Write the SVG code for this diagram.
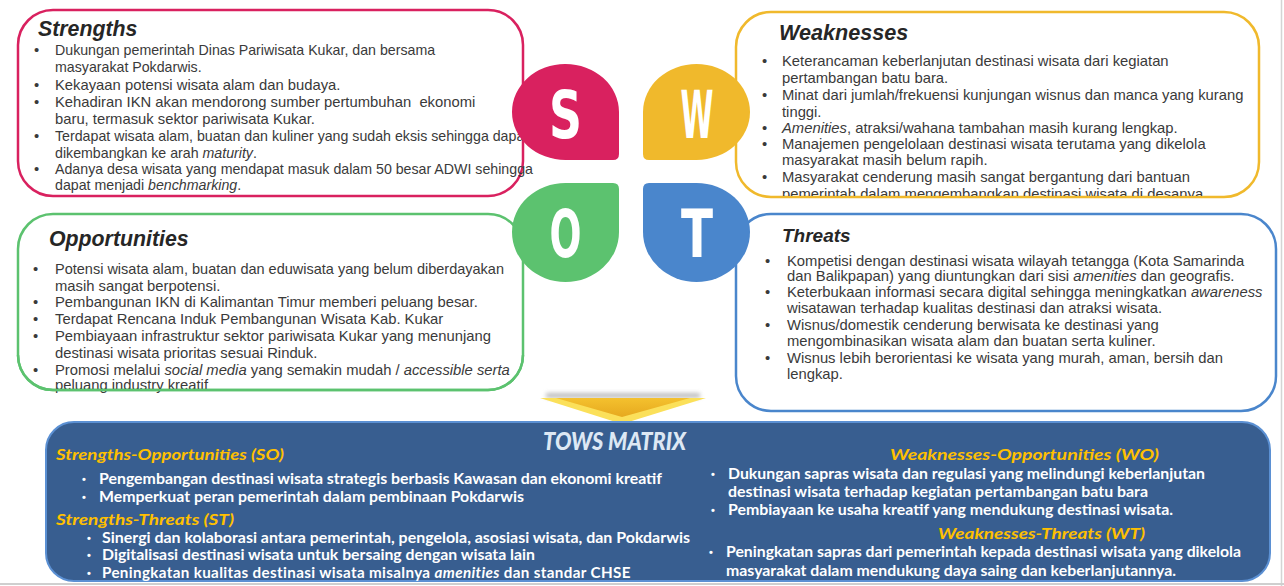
<svg xmlns="http://www.w3.org/2000/svg" width="1284" height="586" viewBox="0 0 1284 586">
<style>
.box{fill:#fff;stroke-width:2.5}
.ttl{font-family:"Liberation Sans",Arial,sans-serif;font-weight:bold;font-style:italic;font-size:21.3px;fill:#262626}
.bd{font-family:"Liberation Sans",Arial,sans-serif;font-size:14.8px;fill:#3a3a3a}
.it{font-style:italic}
.ltr{font-family:"DejaVu Sans",sans-serif;font-weight:bold;font-size:66px;fill:#fff;text-anchor:middle}
.th{font-family:Lato,"Open Sans",sans-serif;font-weight:bold;font-style:italic;font-size:16px;fill:#ffc000}
.tb{font-family:Lato,"Open Sans",sans-serif;font-weight:bold;font-size:14.5px;fill:#fff}
.tbul{font-family:"Liberation Sans",Arial,sans-serif;font-weight:bold;font-size:11px;fill:#fff}
</style>
<defs>
<clipPath id="wclip"><rect x="730" y="0" width="540" height="196"/></clipPath>
<linearGradient id="ag" x1="0" y1="0" x2="0" y2="1">
<stop offset="0" stop-color="#f4c12e"/><stop offset="1" stop-color="#e6a91f"/>
</linearGradient>
<filter id="blur" x="-10%" y="-100%" width="120%" height="300%"><feGaussianBlur stdDeviation="2"/></filter>
</defs>
<rect width="1284" height="586" fill="#fff"/>
<line x1="1281.5" y1="0" x2="1281.5" y2="586" stroke="#d4d4d4" stroke-width="1.5"/>
<line x1="0" y1="584" x2="1284" y2="584" stroke="#cfcfcf" stroke-width="2"/>

<g id="strengths">
<rect class="box" x="18" y="10" width="505" height="186" rx="35" stroke="#d9215f"/>
<text class="ttl" x="38" y="36">Strengths</text>
<g class="bd">
<text x="34" y="55">•</text><text x="55" y="55" style="font-size:14.2px">Dukungan pemerintah Dinas Pariwisata Kukar, dan bersama</text>
<text x="55" y="72" style="font-size:14.2px">masyarakat Pokdarwis.</text>
<text x="34" y="90">•</text><text x="55" y="90">Kekayaan potensi wisata alam dan budaya.</text>
<text x="34" y="107">•</text><text x="55" y="107" xml:space="preserve">Kehadiran IKN akan mendorong sumber pertumbuhan  ekonomi</text>
<text x="55" y="124">baru, termasuk sektor pariwisata Kukar.</text>
<text x="34" y="141">•</text><text x="55" y="141" style="font-size:14.2px">Terdapat wisata alam, buatan dan kuliner yang sudah eksis sehingga dapat</text>
<text x="55" y="158" style="font-size:14.2px">dikembangkan ke arah <tspan class="it">maturity</tspan>.</text>
<text x="34" y="174">•</text><text x="55" y="174" style="font-size:14.2px">Adanya desa wisata yang mendapat masuk dalam 50 besar ADWI sehingga</text>
<text x="55" y="190" style="font-size:14.2px">dapat menjadi <tspan class="it">benchmarking</tspan>.</text>
</g>
</g>

<g id="weaknesses">
<rect class="box" x="736" y="12" width="523" height="185" rx="35" stroke="#f0b92c"/>
<text class="ttl" x="779" y="40" style="font-size:21.6px">Weaknesses</text>
<g class="bd" clip-path="url(#wclip)">
<text x="762" y="66">•</text><text x="782" y="66">Keterancaman keberlanjutan destinasi wisata dari kegiatan</text>
<text x="782" y="83">pertambangan batu bara.</text>
<text x="762" y="100">•</text><text x="782" y="100">Minat dari jumlah/frekuensi kunjungan wisnus dan manca yang kurang</text>
<text x="782" y="117">tinggi.</text>
<text x="762" y="133">•</text><text x="782" y="133"><tspan class="it">Amenities</tspan>, atraksi/wahana tambahan masih kurang lengkap.</text>
<text x="762" y="149">•</text><text x="782" y="149">Manajemen pengelolaan destinasi wisata terutama yang dikelola</text>
<text x="782" y="165">masyarakat masih belum rapih.</text>
<text x="762" y="182">•</text><text x="782" y="182">Masyarakat cenderung masih sangat bergantung dari bantuan</text>
<text x="782" y="199">pemerintah dalam mengembangkan destinasi wisata di desanya.</text>
</g>
</g>

<g id="opportunities">
<rect class="box" x="18" y="214" width="505" height="176" rx="35" stroke="#5cc26f"/>
<text class="ttl" x="49" y="246">Opportunities</text>
<g class="bd">
<text x="33" y="274">•</text><text x="55" y="274" style="font-size:14.5px">Potensi wisata alam, buatan dan eduwisata yang belum diberdayakan</text>
<text x="55" y="291">masih sangat berpotensi.</text>
<text x="33" y="307">•</text><text x="55" y="307">Pembangunan IKN di Kalimantan Timur memberi peluang besar.</text>
<text x="33" y="324">•</text><text x="55" y="324">Terdapat Rencana Induk Pembangunan Wisata Kab. Kukar</text>
<text x="33" y="341">•</text><text x="55" y="341">Pembiayaan infrastruktur sektor pariwisata Kukar yang menunjang</text>
<text x="55" y="358">destinasi wisata prioritas sesuai Rinduk.</text>
<text x="33" y="375">•</text><text x="55" y="375">Promosi melalui <tspan class="it">social media</tspan> yang semakin mudah / <tspan class="it">accessible serta</tspan></text>
<text x="55" y="390">peluang industry kreatif</text>
</g>
<path d="M18,355 A35,35 0 0 0 53,390 H488 A35,35 0 0 0 523,355" fill="none" stroke="#5cc26f" stroke-width="2.5"/>
</g>

<g id="threats">
<rect class="box" x="736" y="214" width="540" height="197" rx="35" stroke="#4a86cc"/>
<text class="ttl" x="782" y="242" style="font-size:19px">Threats</text>
<g class="bd">
<text x="765" y="266">•</text><text x="787" y="266">Kompetisi dengan destinasi wisata wilayah tetangga (Kota Samarinda</text>
<text x="787" y="281">dan Balikpapan) yang diuntungkan dari sisi <tspan class="it">amenities</tspan> dan geografis.</text>
<text x="765" y="297">•</text><text x="787" y="297">Keterbukaan informasi secara digital sehingga meningkatkan <tspan class="it">awareness</tspan></text>
<text x="787" y="313">wisatawan terhadap kualitas destinasi dan atraksi wisata.</text>
<text x="765" y="330">•</text><text x="787" y="330">Wisnus/domestik cenderung berwisata ke destinasi yang</text>
<text x="787" y="346">mengombinasikan wisata alam dan buatan serta kuliner.</text>
<text x="765" y="363">•</text><text x="787" y="363">Wisnus lebih berorientasi ke wisata yang murah, aman, bersih dan</text>
<text x="787" y="379">lengkap.</text>
</g>
</g>

<g id="bubble-S">
<path d="M512,112 A53,48 0 0 1 565.5,64 A53.5,48 0 0 1 619,112 V154 Q619,160 613,160 H565.5 A53.5,48 0 0 1 512,112 Z" fill="#d9215f"/>
<text class="ltr" x="565.5" y="138" textLength="33" lengthAdjust="spacingAndGlyphs">S</text>
</g>
<g id="bubble-W">
<path d="M643,112 A53.5,48 0 0 1 696.5,64 A53.5,48 0 0 1 750,112 A53.5,48 0 0 1 696.5,160 H649 Q643,160 643,154 Z" fill="#f0b92c"/>
<text class="ltr" x="697" y="138" textLength="33" lengthAdjust="spacingAndGlyphs">W</text>
</g>
<g id="bubble-O">
<path d="M512,232 A53.5,49 0 0 1 565.5,183 H613 Q619,183 619,189 V232 A53.5,50 0 0 1 565.5,282 A53.5,50 0 0 1 512,232 Z" fill="#5cc26f"/>
<text class="ltr" x="565.5" y="257" textLength="32" lengthAdjust="spacingAndGlyphs">O</text>
</g>
<g id="bubble-T">
<path d="M643,189 Q643,183 649,183 H696.5 A53.5,49 0 0 1 750,232 A53.5,50 0 0 1 696.5,282 A53.5,50 0 0 1 643,232 Z" fill="#4a86cc"/>
<text class="ltr" x="697" y="257" textLength="32" lengthAdjust="spacingAndGlyphs">T</text>
</g>

<g id="connectors">
<rect x="546" y="393" width="154" height="5" fill="#888" opacity="0.55" filter="url(#blur)"/>
<polygon points="540,398 706,398 622,424" fill="#fbe05a"/>
<polygon points="556,398 690,398 622,417" fill="url(#ag)"/>
</g>

<g id="tows">
<rect x="46" y="422" width="1224" height="159" rx="28" fill="#385e90" stroke="#5b90d3" stroke-width="2"/>
<text x="543" y="450" textLength="143" lengthAdjust="spacingAndGlyphs" style="font-family:Lato,'Liberation Sans',sans-serif;font-weight:900;font-style:italic;font-size:24px;fill:#dde8f4">TOWS MATRIX</text>
<text class="th" x="56" y="460" textLength="228" lengthAdjust="spacingAndGlyphs">Strengths-Opportunities (SO)</text>
<text class="tbul" x="82" y="483">•</text><text class="tb" x="99" y="484" textLength="563" lengthAdjust="spacingAndGlyphs">Pengembangan destinasi wisata strategis berbasis Kawasan dan ekonomi kreatif</text>
<text class="tbul" x="82" y="501">•</text><text class="tb" x="99" y="502" textLength="425" lengthAdjust="spacingAndGlyphs">Memperkuat peran pemerintah dalam pembinaan Pokdarwis</text>
<text class="th" x="56" y="525" textLength="178" lengthAdjust="spacingAndGlyphs">Strengths-Threats (ST)</text>
<text class="tbul" x="87" y="542">•</text><text class="tb" x="102" y="543" textLength="588" lengthAdjust="spacingAndGlyphs">Sinergi dan kolaborasi antara pemerintah, pengelola, asosiasi wisata, dan Pokdarwis</text>
<text class="tbul" x="87" y="559">•</text><text class="tb" x="102" y="560" textLength="433" lengthAdjust="spacingAndGlyphs">Digitalisasi destinasi wisata untuk bersaing dengan wisata lain</text>
<text class="tbul" x="87" y="577">•</text><text class="tb" x="102" y="578" style="font-size:15.2px;letter-spacing:0.35px">Peningkatan kualitas destinasi wisata misalnya <tspan font-style="italic">amenities</tspan> dan standar CHSE</text>
<text class="th" x="890" y="460" textLength="269" lengthAdjust="spacingAndGlyphs">Weaknesses-Opportunities (WO)</text>
<text class="tbul" x="711" y="478">•</text><text class="tb" x="728" y="479" textLength="477" lengthAdjust="spacingAndGlyphs">Dukungan sapras wisata dan regulasi yang melindungi keberlanjutan</text>
<text class="tb" x="728" y="497" textLength="420" lengthAdjust="spacingAndGlyphs">destinasi wisata terhadap kegiatan pertambangan batu bara</text>
<text class="tbul" x="711" y="514">•</text><text class="tb" x="728" y="515" textLength="445" lengthAdjust="spacingAndGlyphs">Pembiayaan ke usaha kreatif yang mendukung destinasi wisata.</text>
<text class="th" x="938" y="539" textLength="207" lengthAdjust="spacingAndGlyphs">Weaknesses-Threats (WT)</text>
<text class="tbul" x="709" y="556">•</text><text class="tb" x="726" y="557" textLength="515" lengthAdjust="spacingAndGlyphs">Peningkatan sapras dari pemerintah kepada destinasi wisata yang dikelola</text>
<text class="tb" x="726" y="576" textLength="450" lengthAdjust="spacingAndGlyphs">masyarakat dalam mendukung daya saing dan keberlanjutannya.</text>
</g>
</svg>
